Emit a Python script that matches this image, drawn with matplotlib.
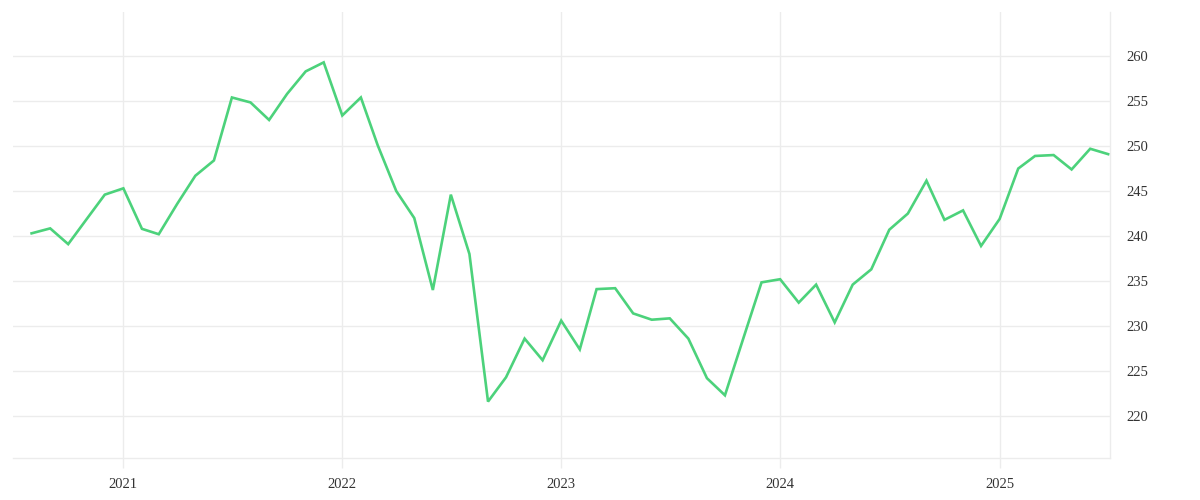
import matplotlib
matplotlib.use("Agg")
import matplotlib.pyplot as plt
import matplotlib.dates as mdates
import pandas as pd

# monthly series, Aug 2020 .. Jul 2025
start_month = "2020-08-01"
end_month = "2025-07-01"
values = [
    240.3, 240.85, 239.1, 241.9, 244.6,
    245.3, 240.8, 240.2, 243.6, 246.7, 248.4, 255.4, 254.85, 252.9, 255.8, 258.3, 259.3,
    253.4, 255.4, 250.1, 245.0, 242.0, 234.0, 244.6, 238.0, 221.6, 224.3, 228.6, 226.2,
    230.6, 227.4, 234.1, 234.2, 231.4, 230.7, 230.85, 228.6, 224.2, 222.3, 228.7, 234.85,
    235.2, 232.6, 234.6, 230.4, 234.6, 236.3, 240.7, 242.5, 246.15, 241.8, 242.85, 238.9,
    241.9, 247.5, 248.9, 249.0, 247.4, 249.7, 249.1,
]
year_ticks = ["2021", "2022", "2023", "2024", "2025"]
y_ticks = [220, 225, 230, 235, 240, 245, 250, 255, 260]

months = pd.date_range(start_month, end_month, freq="MS")

line_color = "#4cd27b"
grid_color = "#ececec"
text_color = "#333333"

fig = plt.figure(figsize=(12, 5), dpi=100)
ax = fig.add_axes([13 / 1200, 42 / 500, (1110 - 13) / 1200, (458 - 12) / 500])

ax.plot(months, values, color=line_color, linewidth=1.9, solid_joinstyle="miter")

ax.set_xlim(pd.Timestamp("2020-07-01"), pd.Timestamp("2025-07-04"))
ax.set_ylim(215.33, 264.9)

ax.set_xticks([pd.Timestamp(y + "-01-01") for y in year_ticks])
ax.xaxis.set_major_formatter(mdates.DateFormatter("%Y"))
ax.set_yticks(y_ticks)

ax.yaxis.tick_right()
ax.grid(True, color=grid_color, linewidth=1)
ax.set_axisbelow(True)

for side in ["top", "left"]:
    ax.spines[side].set_visible(False)
for side in ["right", "bottom"]:
    ax.spines[side].set_color(grid_color)
    ax.spines[side].set_linewidth(1)

ax.tick_params(axis="x", length=7.2, width=1, color=grid_color, pad=7,
               labelsize=10.5, labelcolor=text_color)
ax.tick_params(axis="y", length=0, pad=12, labelsize=10.5, labelcolor=text_color)
for lab in ax.get_xticklabels() + ax.get_yticklabels():
    lab.set_family("Liberation Serif")

fig.savefig("out.png", dpi=100, facecolor="white")
